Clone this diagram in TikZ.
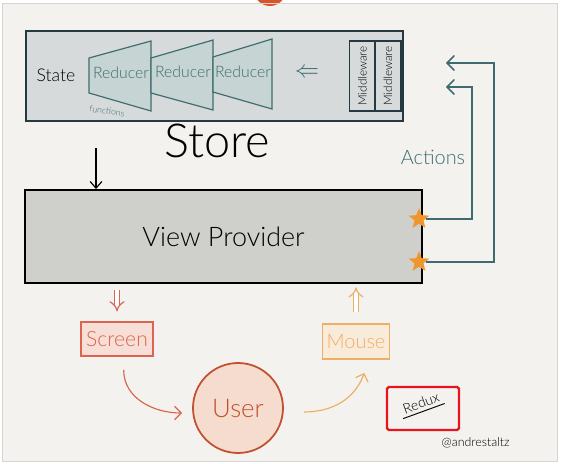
\documentclass[tikz,border=0pt]{standalone}
\usepackage{fontspec}
\setmainfont{Lato Light}
\usetikzlibrary{arrows.meta,shapes.geometric}
\definecolor{paper}{HTML}{F3F2EE}
\definecolor{framegray}{HTML}{D4D4D4}
\definecolor{navy}{HTML}{263840}
\definecolor{storegray}{HTML}{D7DADB}
\definecolor{slate}{HTML}{3E6C6E}
\definecolor{reducerfill}{HTML}{C6D4D3}
\definecolor{viewgray}{HTML}{CFCFCC}
\definecolor{starorange}{HTML}{F0962E}
\definecolor{screenred}{HTML}{DC6450}
\definecolor{screenfill}{HTML}{F7DED6}
\definecolor{mouseorange}{HTML}{EFAE66}
\definecolor{mousefill}{HTML}{F9EBD9}
\definecolor{userred}{HTML}{C0502E}
\definecolor{userfill}{HTML}{F6DCCF}
\definecolor{topdot}{HTML}{D9542A}
\definecolor{reduxred}{HTML}{E8141C}
\begin{document}
\begin{tikzpicture}[x=0.3mm, y=-0.3mm, thick,
	storebox/.style = {draw=navy, fill=storegray, line width=1.6pt, minimum width=113.1mm, minimum height=27mm, inner sep=0pt},
	reducer/.style = {draw=slate, fill=reducerfill, line width=1pt},
	mw/.style = {draw=navy, fill=storegray, line width=1.1pt, rotate=90, minimum width=21mm, minimum height=7.8mm, inner sep=0pt, font=\fontsize{10}{10}\selectfont},
	viewbox/.style = {draw=black, fill=viewgray, line width=1.6pt, minimum width=119.1mm, minimum height=27.9mm, inner sep=0pt, font=\fontsize{23}{24}\selectfont},
	starmark/.style = {star, star points=5, star point ratio=2.3, fill=starorange, minimum size=6.5mm, inner sep=0pt},
	act/.style = {draw=slate, line width=1.3pt, -{Straight Barb[length=2.2mm, width=4.5mm]}},
	screenbox/.style = {draw=screenred, fill=screenfill, line width=1pt, text=screenred, minimum width=21.6mm, minimum height=10.2mm, font=\fontsize{18}{18}\selectfont},
	mousebox/.style = {draw=mouseorange, fill=mousefill, line width=1pt, text=mouseorange, minimum width=19.2mm, minimum height=10.5mm, font=\fontsize{17}{18}\selectfont},
	userdisk/.style = {draw=userred, fill=userfill, circle, line width=1.5pt, text=userred, minimum size=27mm, font=\fontsize{22}{22}\selectfont},
	dbl/.style = {double, double distance=3.5pt, line width=1pt, -{Implies[length=2.5mm]}},
	curvearrow/.style = {line width=1pt, -{Straight Barb[length=2mm, width=4mm]}}]
	
	\useasboundingbox (0,0) rectangle (562,464);
	\fill[white] (0,0) rectangle (562,464);
	\fill[paper] (2,3) rectangle (557,461);
	\begin{scope}
		\clip (2,0) rectangle (557,461);
		\fill[topdot] (270,-10) circle (16);
	\end{scope}
	\draw[framegray, line width=0.6pt] (2,3) rectangle (557,461);
	
	% store
	\node[storebox] (store) at (214.5,76) {};
	\node[font=\fontsize{15}{15}\selectfont] (state) at (56,75) {State};
	\draw[reducer] (89,58) -- (151,41) -- (151,111) -- (89,93) -- cycle;
	\draw[reducer] (151,58) -- (213,40) -- (213,110) -- (151,93) -- cycle;
	\draw[reducer] (213,57) -- (272,39) -- (272,109) -- (213,92) -- cycle;
	\node[text=slate, font=\fontsize{13.5}{13.5}\selectfont] (red1) at (121,73) {Reducer};
	\node[text=slate, font=\fontsize{13.5}{13.5}\selectfont] (red2) at (183,72) {Reducer};
	\node[text=slate, font=\fontsize{13.5}{13.5}\selectfont] (red3) at (243,72) {Reducer};
	\node[text=slate, rotate=-8, font=\fontsize{7.5}{7.5}\selectfont] (fn) at (107,111) {functions};
	\node[text=slate, font=\fontsize{20}{20}\selectfont] (toreducers) at (307,73) {$\Leftarrow$};
	\node[mw] (mw1) at (362.5,76) {Middleware};
	\node[mw] (mw2) at (388,76) {Middleware};
	\node[font=\fontsize{40}{40}\selectfont] (storelbl) at (217,141) {Store};
	
	% view
	\node[viewbox] (view) at (223.5,236.5) {View Provider};
	\coordinate (down) at (96,148);
	\draw[-{Straight Barb[length=2mm, width=3.5mm]}, line width=1pt] (down) -- (down |- view.north);
	
	\coordinate (in1) at (446,63);
	\coordinate (turn1) at (494,63);
	\coordinate (in2) at (446,87);
	\coordinate (turn2) at (472,87);
	\node[starmark] (st1) at (419,219) {};
	\node[starmark] (st2) at (419,262) {};
	\draw[act] (st2) -| (turn1) -- (in1);
	\draw[act] (st1) -| (turn2) -- (in2);
	\node[text=slate, font=\fontsize{17}{17}\selectfont] (acts) at (433,157) {Actions};
	
	% user loop
	\node[screenbox] (screen) at (117,339) {Screen};
	\node[mousebox] (mouse) at (356,341.5) {Mouse};
	\node[userdisk] (user) at (238,408) {User};
	\draw[dbl, draw=screenred] ([yshift=-1.8mm]view.south -| screen.north) -- ([yshift=3mm]screen.north);
	\draw[dbl, draw=mouseorange] ([yshift=3.5mm]mouse.north) -- ([yshift=-1mm]view.south -| mouse.north);
	\draw[curvearrow, screenred] ([xshift=2mm, yshift=-4mm]screen.south) to[out=-90, in=180] ([xshift=-3mm, yshift=-1.5mm]user.west);
	\draw[curvearrow, mouseorange] ([xshift=6mm, yshift=-1.2mm]user.east) to[out=0, in=-110] ([xshift=2.5mm, yshift=-4mm]mouse.south);
	
	% tag
	\node[draw=reduxred, line width=2pt, rounded corners=1.5pt, minimum width=21.6mm, minimum height=12.9mm] (tag) at (423,408.5) {};
	\node[rotate=20, font=\fontsize{12}{12}\selectfont, inner sep=2.5pt] (redux) at (421,403) {Redux};
	\draw[line width=0.8pt] (redux.south west) -- (redux.south east);
	\node[anchor=east, font=\fontsize{10.5}{10.5}\selectfont] (sig) at (514,443) {@andrestaltz};
\end{tikzpicture}
\end{document}
